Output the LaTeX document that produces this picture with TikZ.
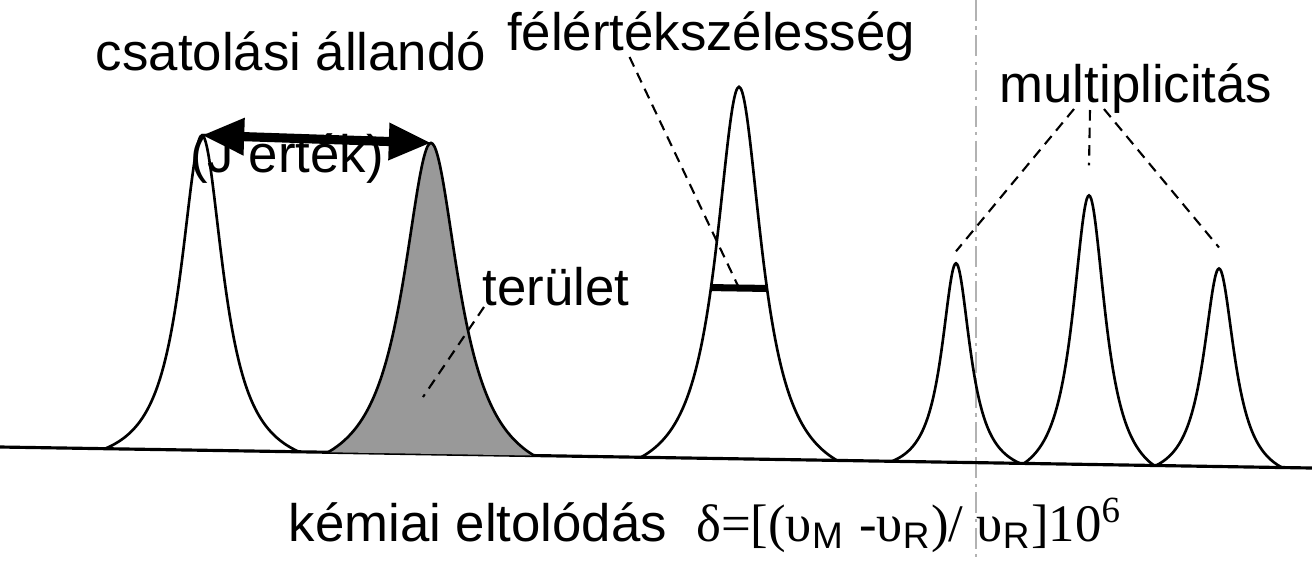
\documentclass[tikz,border=0pt]{standalone}
\usepackage{fontspec}
\setmainfont{Liberation Sans}
\newfontfamily\grserif{Liberation Serif}
\usetikzlibrary{arrows.meta,calc}

\begin{document}
\begin{tikzpicture}[x=0.01cm, y=-0.01cm,
  declare function={base(\x)=447+0.016*\x; lor(\d,\g)=1/(1+(\d/\g)^2);
    pk(\x,\c,\h,\g,\w)=base(\x)-\h*(lor(\x-\c,\g)-lor(\w,\g))/(1-lor(\w,\g));},
  every node/.style={font=\fontsize{15}{18}\selectfont, inner sep=0pt},
  curve/.style={line width=0.75pt},
  leader/.style={line width=0.6pt, dash pattern=on 3pt off 2pt},
  jarrow/.style={line width=2.6pt, {Triangle[length=12pt,width=10pt]}-{Triangle[length=12pt,width=10pt]}},
]
\useasboundingbox (0,0) rectangle (1312,560);

% Scan fold
\draw[black!30, line width=0.4pt, dash pattern=on 6pt off 1.5pt on 1pt off 1.5pt] (976,0) -- (976,560);

% Baseline
\draw[line width=0.9pt] (0,{base(0)}) -- (1312,{base(1312)});

% Shaded area of the second peak
\fill[black!40] plot[domain=328:534, samples=121, smooth] (\x,{pk(\x,431,311,34,103)}) -- cycle;

% Peaks: name/centre/height/width/half base
\foreach \n/\c/\h/\g/\w [evaluate=\c as \lo using \c-\w, evaluate=\c as \hi using \c+\w]
    in {1/202/315/26/97, 2/431/311/34/103, 3/739/372/28/98, 4/956/199/17.5/64, 5/1089/269/20/65, 6/1219/198/19/63} {
  \coordinate (top\n) at (\c,{base(\c)-\h});
  \draw[curve] plot[domain=\lo:\hi, samples=121, smooth] (\x,{pk(\x,\c,\h,\g,\w)});
}

% Half width bar
\coordinate (hwl) at (711,{pk(711,739,372,28,98)});
\coordinate (hwr) at (767,{pk(767,739,372,28,98)});
\coordinate (hwmid) at ($(hwl)!0.5!(hwr)$);
\draw[line width=2pt] (hwl) -- (hwr);

% Labels
\node[anchor=base] (coupling) at (291,70) {csatolási állandó};
\node[anchor=base] (jvalue) at (287,172) {(J érték)};
\node[anchor=base] (fwhm) at (711,50) {félértékszélesség};
\node[anchor=base] (mult) at (1136,102) {multiplicitás};
\node[anchor=base west] (area) at (482,305) {terület};
\node[anchor=base west] (shift) at (288,541) {kémiai eltolódás\ \ {\grserif δ=[(υ}\textsubscript{M} {\grserif -υ}\textsubscript{R}{\grserif )/ υ}\textsubscript{R}{\grserif ]10\textsuperscript{6}}};

% Coupling constant
\draw[jarrow] (top1) -- (top2);

% Leaders
\coordinate (areapt) at (423,397);
\draw[leader] ($(area.base west)+(2,2)$) -- (areapt);
\draw[leader] ($(fwhm.base west)+(123,7)$) -- (hwmid);
\draw[leader] ($(mult.base west)+(75,7)$) -- ($(top4)+(0,-12)$);
\draw[leader] ($(mult.base west)+(91,8)$) -- ($(top5)+(0,-30)$);
\draw[leader] ($(mult.base west)+(105,7)$) -- ($(top6)+(0,-21)$);

\end{tikzpicture}
\end{document}
